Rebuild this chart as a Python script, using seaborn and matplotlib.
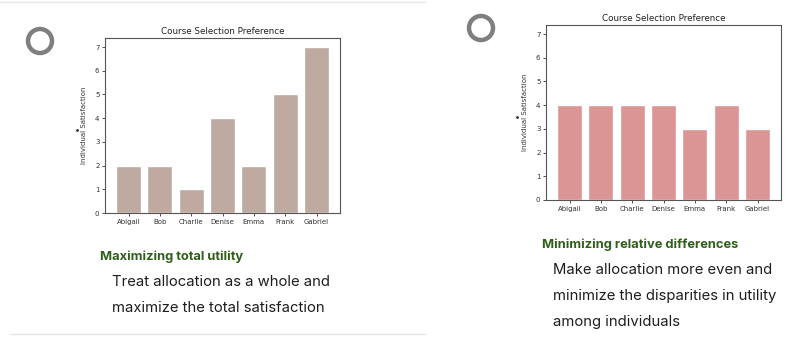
import matplotlib
matplotlib.use("Agg")
import matplotlib.pyplot as plt
from matplotlib.patches import Circle
import seaborn as sns
import pandas as pd

names = ["Abigail", "Bob", "Charlie", "Denise", "Emma", "Frank", "Gabriel"]
utility_total = [2, 2, 1, 4, 2, 5, 7]
utility_even = [4, 4, 4, 4, 3, 4, 3]
y_ticks = [0, 1, 2, 3, 4, 5, 6, 7]

W, H = 785, 338
fig = plt.figure(figsize=(W / 100, H / 100), dpi=100)

# background layer in pixel coords for the slide decorations
bg = fig.add_axes([0, 0, 1, 1], zorder=0)
bg.set_xlim(0, W)
bg.set_ylim(H, 0)
bg.axis("off")
bg.plot([0, 425], [2, 2], color="#e6e6e6", lw=1)
bg.plot([10, 425], [334, 334], color="#e6e6e6", lw=1)
bg.add_patch(Circle((40, 41), 12, fill=False, ec="#7f7f7f", lw=3.2))
bg.add_patch(Circle((481, 28), 12, fill=False, ec="#7f7f7f", lw=3.2))
bg.plot([77], [130], marker="o", ms=1, color="#333333")
bg.plot([517], [117], marker="o", ms=1, color="#333333")


def draw(rect, values, color):
    ax = fig.add_axes(rect, zorder=1)
    df = pd.DataFrame({"name": names, "value": values})
    sns.barplot(data=df, x="name", y="value", color=color, saturation=1,
                width=0.8, edgecolor="white", linewidth=1, ax=ax)
    ax.set_xlim(-0.75, 6.75)
    ax.set_ylim(0, 7.38)
    ax.set_yticks(y_ticks)
    ax.set_xlabel("")
    ax.set_ylabel("Individual Satisfaction", fontsize=5, color="#333333", labelpad=6)
    ax.set_title("Course Selection Preference", fontsize=6.3, color="#222222", pad=3)
    ax.tick_params(labelsize=5, length=2, width=0.6, pad=2, colors="#333333")
    for s in ax.spines.values():
        s.set_color("#555555")
        s.set_linewidth(0.8)
    return ax


draw([105 / W, 1 - 213 / H, 235 / W, 175 / H], utility_total, "#bfaaa2")
draw([546 / W, 1 - 200 / H, 235 / W, 175 / H], utility_even, "#db9595")

font = ["Inter", "DejaVu Sans"]
body = dict(fontsize=10.7, color="#1e1e1e", va="center", family=font)
head = dict(fontsize=9.3, fontweight="bold", color="#2f5f1a", va="center", family=font)

fig.text(100 / W, 1 - 257 / H, "Maximizing total utility", **head)
fig.text(112 / W, 1 - 282 / H, "Treat allocation as a whole and", **body)
fig.text(112 / W, 1 - 308 / H, "maximize the total satisfaction", **body)

fig.text(542 / W, 1 - 245 / H, "Minimizing relative differences", **head)
fig.text(553 / W, 1 - 270 / H, "Make allocation more even and", **body)
fig.text(553 / W, 1 - 296 / H, "minimize the disparities in utility", **body)
fig.text(553 / W, 1 - 322 / H, "among individuals", **body)

fig.savefig("out.png", dpi=100, facecolor="white")
